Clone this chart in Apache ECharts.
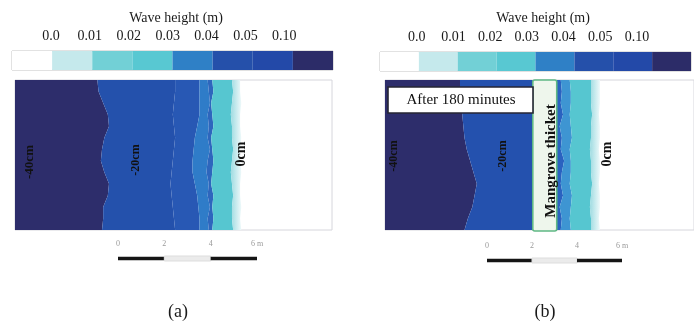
<!DOCTYPE html>
<html>
<head>
<meta charset="utf-8">
<script src="https://cdn.jsdelivr.net/npm/echarts@6/dist/echarts.min.js"></script>
<style>
  html, body { margin: 0; padding: 0; background: #fff; }
  #chart { width: 694px; height: 325px; }
</style>
</head>
<body>
<div id="chart"></div>
<script>
// legend classes (wave height, m)
const legendTicks = ["0.0", "0.01", "0.02", "0.03", "0.04", "0.05", "0.10"];
const legendColors = ["#ffffff", "#c5e9ec", "#72d0d6", "#58c8d2", "#2f80c6", "#2550aa", "#2349a8", "#2c2c68"];

// cross-shore contours, x in m from the seaward edge, sampled at ys (m)
const ys = [0, 0.5, 1, 1.5, 2, 2.5, 3, 3.5, 4, 4.5, 5, 5.5, 6, 6.5];
const seaEdge = [0, 0, 0, 0, 0, 0, 0, 0, 0, 0, 0, 0, 0, 0];

// (a) without mangrove
const aNavy   = [3.75, 3.8, 3.8, 4.0, 4.05, 3.85, 3.7, 3.75, 3.85, 4.05, 4.0, 3.8, 3.6, 3.55];
const aMid    = [6.9, 6.85, 6.8, 6.75, 6.7, 6.75, 6.8, 6.85, 6.9, 6.85, 6.8, 6.85, 6.9, 6.9];
const aLight  = [7.95, 7.95, 7.9, 7.85, 7.75, 7.65, 7.65, 7.7, 7.75, 7.85, 7.95, 7.95, 7.95, 7.95];
const aStreak = [8.35, 8.3, 8.4, 8.3, 8.35, 8.25, 8.3, 8.4, 8.3, 8.35, 8.3, 8.4, 8.35, 8.3];
const aCyan   = [8.5, 8.55, 8.5, 8.55, 8.45, 8.5, 8.55, 8.5, 8.45, 8.55, 8.5, 8.45, 8.55, 8.5];
const aPale   = [9.4, 9.35, 9.35, 9.4, 9.35, 9.3, 9.35, 9.4, 9.35, 9.35, 9.3, 9.35, 9.4, 9.35];
const aEdge   = [9.75, 9.7, 9.75, 9.7, 9.7, 9.75, 9.7, 9.7, 9.75, 9.7, 9.7, 9.75, 9.7, 9.7];

// (b) with mangrove thicket
const bNavy    = [3.55, 3.7, 3.9, 4.0, 4.1, 3.95, 3.8, 3.65, 3.55, 3.5, 3.45, 3.4, 3.35, 3.35];
const bFront   = [6.6, 6.6, 6.6, 6.6, 6.6, 6.6, 6.6, 6.6, 6.6, 6.6, 6.6, 6.6, 6.6, 6.6];
const bBack    = [7.67, 7.67, 7.67, 7.67, 7.67, 7.67, 7.67, 7.67, 7.67, 7.67, 7.67, 7.67, 7.67, 7.67];
const bStreak  = [7.85, 7.9, 7.8, 7.95, 7.85, 7.9, 8.0, 7.85, 7.9, 7.8, 7.95, 7.85, 7.9, 7.85];
const bCyan    = [8.3, 8.25, 8.3, 8.35, 8.25, 8.3, 8.3, 8.25, 8.35, 8.3, 8.25, 8.3, 8.3, 8.25];
const bPale    = [9.2, 9.2, 9.15, 9.2, 9.25, 9.2, 9.2, 9.15, 9.2, 9.2, 9.25, 9.2, 9.2, 9.2];
const bEdge    = [9.6, 9.55, 9.6, 9.6, 9.55, 9.6, 9.6, 9.55, 9.6, 9.6, 9.55, 9.6, 9.6, 9.6];

// scale bar (m)
const scaleSegments = [[0, 2], [2, 4], [4, 6]];

const paleFill = new echarts.graphic.LinearGradient(0, 0, 1, 0, [
  { offset: 0, color: "#9edbe1" },
  { offset: 1, color: "#eef9fa" }
]);
const bandsA = [
  { l: seaEdge, r: aNavy, c: "#2d2d6b" },
  { l: aNavy, r: aMid, c: "#2451ac" },
  { l: aMid, r: aLight, c: "#2858b4" },
  { l: aLight, r: aStreak, c: "#2f7cc8" },
  { l: aStreak, r: aCyan, c: "#2e66bd" },
  { l: aCyan, r: aPale, c: "#56c6d0" },
  { l: aPale, r: aEdge, c: paleFill }
];
const bandsB = [
  { l: seaEdge, r: bNavy, c: "#2d2d6b" },
  { l: bNavy, r: bFront, c: "#2451ae" },
  { l: bBack, r: bStreak, c: "#2a62c0" },
  { l: bStreak, r: bCyan, c: "#3e95d2" },
  { l: bCyan, r: bPale, c: "#56c6d0" },
  { l: bPale, r: bEdge, c: paleFill }
];

const serif = "Liberation Serif";
const chart = echarts.init(document.getElementById("chart"));

function bandRender(bands) {
  return function (params, api) {
    const b = bands[params.dataIndex];
    const pts = [];
    for (let i = 0; i < ys.length; i++) pts.push(api.coord([b.l[i], ys[i]]));
    for (let i = ys.length - 1; i >= 0; i--) pts.push(api.coord([b.r[i], ys[i]]));
    return { type: "polygon", shape: { points: pts }, style: { fill: b.c } };
  };
}

function legendRender(params, api) {
  const i = params.dataIndex;
  const p0 = api.coord([i, 1]);
  const p1 = api.coord([i + 1, 0]);
  return {
    type: "rect",
    shape: { x: p0[0], y: p0[1], width: p1[0] - p0[0], height: p1[1] - p0[1] },
    style: { fill: legendColors[i] }
  };
}

function scaleRender(params, api) {
  const s = scaleSegments[params.dataIndex];
  const mid = params.dataIndex === 1;
  const p0 = api.coord([s[0], mid ? 1 : 0.85]);
  const p1 = api.coord([s[1], mid ? 0 : 0.15]);
  return {
    type: "rect",
    shape: { x: p0[0], y: p0[1], width: p1[0] - p0[0], height: p1[1] - p0[1] },
    style: { fill: mid ? "#ebebeb" : "#151515", stroke: mid ? "#dddddd" : null, lineWidth: 1 }
  };
}

const hidden = { show: false };
function plainAxis(grid, min, max, extra) {
  return Object.assign({
    type: "value", gridIndex: grid, min: min, max: max,
    axisLine: hidden, axisTick: hidden, splitLine: hidden, axisLabel: hidden
  }, extra || {});
}
function tickAxis(grid, max) {
  return plainAxis(grid, 0, max, {
    position: "top", interval: 1, showMaxLabel: false,
    axisLabel: {
      show: true, margin: 8, fontFamily: serif, fontSize: 14, color: "#1a1a1a",
      formatter: v => (v >= 1 && v <= 7 ? legendTicks[v - 1] : "")
    }
  });
}
function scaleAxis(grid) {
  return plainAxis(grid, 0, 6, {
    position: "top", interval: 2,
    axisLabel: {
      show: true, margin: 8, fontFamily: serif, fontSize: 8, color: "#9a9a9a",
      formatter: v => (v === 6 ? "6 m" : String(v))
    }
  });
}

function vText(x, y, text, size) {
  return {
    type: "text", x: x, y: y, rotation: Math.PI / 2, z: 10,
    style: { text: text, font: "bold " + size + "px 'Liberation Serif'", fill: "#111", align: "center", verticalAlign: "middle" }
  };
}

const option = {
  backgroundColor: "#ffffff",
  animation: false,
  title: [
    { text: "Wave height (m)", left: 171, top: 6, textAlign: "center",
      textStyle: { fontFamily: serif, fontSize: 14, fontWeight: "normal", color: "#1a1a1a" } },
    { text: "Wave height (m)", left: 538, top: 6, textAlign: "center",
      textStyle: { fontFamily: serif, fontSize: 14, fontWeight: "normal", color: "#1a1a1a" } },
    { text: "(a)", left: 173, top: 298, textAlign: "center",
      textStyle: { fontFamily: serif, fontSize: 18, fontWeight: "normal", color: "#1a1a1a" } },
    { text: "(b)", left: 540, top: 298, textAlign: "center",
      textStyle: { fontFamily: serif, fontSize: 18, fontWeight: "normal", color: "#1a1a1a" } }
  ],
  grid: [
    { left: 12, top: 51, width: 321, height: 19, show: true, borderColor: "#c4c4c4", borderWidth: 1 },
    { left: 380, top: 52, width: 322, height: 19, show: true, borderColor: "#c4c4c4", borderWidth: 1 },
    { left: 15, top: 80, width: 317, height: 150, show: true, borderColor: "#d6d6dc", borderWidth: 1, backgroundColor: "#fff" },
    { left: 385, top: 80, width: 320, height: 150, show: true, borderColor: "#d6d6dc", borderWidth: 1, backgroundColor: "#fff" },
    { left: 118, top: 256, width: 139, height: 5 },
    { left: 487, top: 258, width: 135, height: 5 }
  ],
  xAxis: [
    plainAxis(0, 0, 8),
    tickAxis(0, 8.25),
    plainAxis(1, 0, 8),
    tickAxis(1, 8.47),
    plainAxis(2, 0, 13.66),
    plainAxis(3, 0, 13.8),
    scaleAxis(4),
    scaleAxis(5)
  ],
  yAxis: [
    plainAxis(0, 0, 1), plainAxis(1, 0, 1),
    plainAxis(2, 0, 6.5), plainAxis(3, 0, 6.5),
    plainAxis(4, 0, 1), plainAxis(5, 0, 1)
  ],
  series: [
    { type: "custom", xAxisIndex: 0, yAxisIndex: 0, renderItem: legendRender,
      data: legendColors.map((c, i) => [i, 0]) },
    { type: "custom", xAxisIndex: 2, yAxisIndex: 1, renderItem: legendRender,
      data: legendColors.map((c, i) => [i, 0]) },
    { type: "custom", xAxisIndex: 4, yAxisIndex: 2, renderItem: bandRender(bandsA),
      data: bandsA.map((b, i) => [0, i]) },
    { type: "custom", xAxisIndex: 5, yAxisIndex: 3, renderItem: bandRender(bandsB),
      data: bandsB.map((b, i) => [0, i]) },
    { type: "custom", xAxisIndex: 5, yAxisIndex: 3, z: 5,
      renderItem: function (params, api) {
        const p0 = api.coord([bFront[0], 6.5]);
        const p1 = api.coord([bBack[0], 0]);
        return {
          type: "rect",
          shape: { x: p0[0], y: p0[1], width: p1[0] - p0[0], height: p1[1] - p0[1] + 1, r: 2 },
          style: { fill: "#eef6ec", stroke: "#5fb884", lineWidth: 1.6 }
        };
      },
      data: [[0, 0]] },
    { type: "custom", xAxisIndex: 6, yAxisIndex: 4, renderItem: scaleRender,
      data: scaleSegments.map((s, i) => [s[0], i]) },
    { type: "custom", xAxisIndex: 7, yAxisIndex: 5, renderItem: scaleRender,
      data: scaleSegments.map((s, i) => [s[0], i]) }
  ],
  graphic: [
    vText(30, 162, "-40cm", 13),
    vText(136, 160, "-20cm", 12),
    vText(241, 154, "0cm", 14),
    vText(394, 156, "-40cm", 12),
    vText(503, 156, "-20cm", 12),
    vText(551, 161, "Mangrove thicket", 15),
    vText(607, 154, "0cm", 14),
    { type: "rect", x: 388, y: 87, z: 10,
      shape: { width: 145, height: 26 },
      style: { fill: "#ffffff", stroke: "#262633", lineWidth: 1.6 } },
    { type: "text", x: 461, y: 100, z: 11,
      style: { text: "After 180 minutes", font: "15px 'Liberation Serif'", fill: "#111", align: "center", verticalAlign: "middle" } }
  ]
};

chart.setOption(option);
</script>
</body>
</html>
